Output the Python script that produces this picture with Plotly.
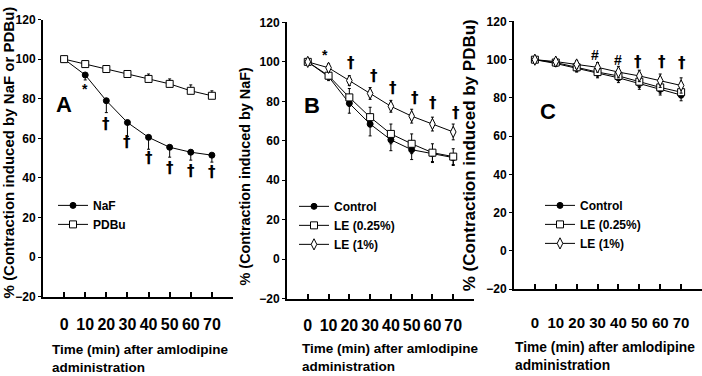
import plotly.graph_objects as go

# ---------------- data ----------------
time_min = [0, 10, 20, 30, 40, 50, 60, 70]
x_tickvals = [0, 10, 20, 30, 40, 50, 60, 70, 80]
x_ticktext = ["0", "10", "20", "30", "40", "50", "60", "70", ""]
y_tickvals = [-20, 0, 20, 40, 60, 80, 100, 120]

# Panel A
a_naf = [100, 92, 79, 68, 60.5, 55.5, 53, 51.5]
a_naf_err_lo = [0, 2.5, 6, 7, 6, 5, 4, 3.5]
a_pdbu = [100, 97.5, 95, 92.5, 90, 87.5, 84, 81.5]
a_pdbu_err_hi = [0, 1, 1.5, 1.5, 2.5, 2.5, 3, 2.5]

# Panel B (NaF)
b_control = [100, 92.5, 79, 68.5, 60.5, 55.5, 53.5, 51.5]
b_control_err = [0, 2, 5, 6, 5.5, 5, 4.5, 4]
b_le025 = [100, 93, 82, 72, 63.5, 58.5, 54, 52]
b_le025_err = [0, 2, 4.5, 5, 5, 5, 4.5, 4]
b_le1 = [100, 97, 90.5, 84, 77.5, 72.5, 68.5, 64.5]
b_le1_err = [1, 2, 2.5, 3, 3, 3.5, 3.5, 4]

# Panel C (PDBu)
c_control = [100, 98, 95.5, 93, 90.5, 87.5, 84.5, 81.5]
c_control_err = [1, 1.5, 2, 2.5, 2.5, 3, 3, 3]
c_le025 = [100, 98.5, 96, 93.5, 91.5, 88.5, 85.5, 83]
c_le025_err = [1, 1.5, 2, 2.5, 2.5, 3, 3, 3]
c_le1 = [100, 99, 97.5, 96, 93.5, 91.5, 89, 86.5]
c_le1_err = [1, 1.5, 2, 2.5, 3, 3, 3.5, 4]

# significance marks
a_marks_x = [10, 20, 30, 40, 50, 60, 70]
a_marks_y = [85, 67, 58, 50, 45, 43.5, 43]
a_marks_t = ["*", "†", "†", "†", "†", "†", "†"]
b_marks_x = [8.5, 21, 32, 41, 51.5, 60.5, 71.5]
b_marks_y = [103.5, 99.5, 93, 87, 81.5, 79, 74]
b_marks_t = ["*", "†", "†", "†", "†", "†", "†"]
c_marks_x = [29, 40, 49.5, 61, 70.5]
c_marks_y = [102.5, 100, 99, 98.8, 98.4]
c_marks_t = ["#", "#", "†", "†", "†"]

FONT = "Liberation Sans, Arial, sans-serif"
MARKFONT = "DejaVu Sans, Liberation Sans, sans-serif"
BLACK = "black"

fig = go.Figure()


def add_series(x, y, xa, ya, legend, name, symbol, fill, up, down, size=7):
    fig.add_trace(go.Scatter(
        x=x, y=y, xaxis=xa, yaxis=ya, legend=legend, name=name,
        mode="lines+markers",
        line=dict(color=BLACK, width=1),
        marker=dict(symbol=symbol, size=size, color=fill,
                    line=dict(color=BLACK, width=1)),
        error_y=dict(type="data", symmetric=False, array=up, arrayminus=down,
                     color=BLACK, thickness=1, width=1.5),
        showlegend=True,
    ))


zeros = [0] * len(time_min)
# Panel A
add_series(time_min, a_naf, "x", "y", "legend", "NaF", "circle", BLACK, zeros, a_naf_err_lo, 6)
add_series(time_min, a_pdbu, "x", "y", "legend", "PDBu", "square", "white", a_pdbu_err_hi, zeros, 7)
# Panel B
add_series(time_min, b_control, "x2", "y2", "legend2", "Control", "circle", BLACK, zeros, b_control_err, 6)
add_series(time_min, b_le025, "x2", "y2", "legend2", "LE (0.25%)", "square", "white", b_le025_err, b_le025_err, 7)
add_series(time_min, b_le1, "x2", "y2", "legend2", "LE (1%)", "diamond-tall", "white", b_le1_err, b_le1_err, 8)
# Panel C
add_series(time_min, c_control, "x3", "y3", "legend3", "Control", "circle", BLACK, c_control_err, c_control_err, 6)
add_series(time_min, c_le025, "x3", "y3", "legend3", "LE (0.25%)", "square", "white", c_le025_err, c_le025_err, 7)
add_series(time_min, c_le1, "x3", "y3", "legend3", "LE (1%)", "diamond-tall", "white", c_le1_err, c_le1_err, 8)

W, H = 702, 376


def px_x(p):
    return p / W


def px_y(p):
    return (H - p) / H


def xaxis(domain, anchor, tsize, standoff):
    return dict(domain=domain, anchor=anchor, range=[-10, 80],
                tickvals=x_tickvals, ticktext=x_ticktext,
                ticks="inside", ticklen=5, tickwidth=1.5, tickcolor=BLACK,
                showline=True, linecolor=BLACK, linewidth=2,
                showgrid=False, zeroline=False,
                ticklabelstandoff=standoff,
                tickfont=dict(family=FONT, size=tsize, color=BLACK, weight="bold"))


def yaxis(domain, anchor, tsize):
    return dict(domain=domain, anchor=anchor, range=[-20, 120],
                tickvals=y_tickvals,
                ticks="outside", ticklen=3, tickwidth=1, tickcolor=BLACK,
                showline=True, linecolor=BLACK, linewidth=2,
                showgrid=False, zeroline=False,
                tickfont=dict(family=FONT, size=tsize, color=BLACK, weight="bold"))


leg_common = dict(xanchor="left", yanchor="top", bgcolor="rgba(0,0,0,0)",
                  font=dict(family=FONT, size=12, color=BLACK, weight="bold"),
                  itemwidth=30, tracegroupgap=0)

fig.update_layout(
    width=W, height=H,
    margin=dict(l=0, r=0, t=0, b=0),
    paper_bgcolor="white", plot_bgcolor="white",
    font=dict(family=FONT, color=BLACK),
    xaxis=xaxis([px_x(43), px_x(233)], "y", 16, 12),
    yaxis=yaxis([px_y(301), px_y(13)], "x", 12),
    xaxis2=xaxis([px_x(287), px_x(474)], "y2", 16, 11),
    yaxis2=yaxis([px_y(303), px_y(16)], "x2", 12),
    xaxis3=xaxis([px_x(514), 1.0], "y3", 15, 19),
    yaxis3=yaxis([px_y(293), px_y(15)], "x3", 12),
    legend=dict(x=px_x(53), y=px_y(191), **leg_common),
    legend2=dict(x=px_x(294), y=px_y(192), **leg_common),
    legend3=dict(x=px_x(540), y=px_y(191), **leg_common),
)

ann = []
for xr, yr, xv, yv, t in [("x", "y", 0, 77, "A"), ("x2", "y2", 1.8, 78, "B"), ("x3", "y3", 6.4, 73, "C")]:
    ann.append(dict(xref=xr, yref=yr, x=xv, y=yv, text=t, showarrow=False,
                    font=dict(family=FONT, size=22, color=BLACK, weight="bold")))
for xr, yr, xs, ys, ts in [("x", "y", a_marks_x, a_marks_y, a_marks_t),
                           ("x2", "y2", b_marks_x, b_marks_y, b_marks_t),
                           ("x3", "y3", c_marks_x, c_marks_y, c_marks_t)]:
    for xv, yv, t in zip(xs, ys, ts):
        ann.append(dict(xref=xr, yref=yr, x=xv, y=yv, text=t, showarrow=False,
                        font=dict(family=MARKFONT if t == "†" else FONT,
                                  size=15 if t == "†" else 14,
                                  color=BLACK, weight="bold")))
for xp, yp, t, s in [(8, 151, "% (Contraction induced by NaF or PDBu)", 15),
                     (245, 176, "% (Contraction induced by NaF)", 14.4),
                     (469, 154, "% (Contraction induced by PDBu)", 17)]:
    ann.append(dict(xref="paper", yref="paper", x=px_x(xp), y=px_y(yp), text=t,
                    textangle=-90, showarrow=False, xanchor="center", yanchor="middle",
                    font=dict(family=FONT, size=s, color=BLACK, weight="bold")))
for xp, yp, s in [(50, 346, 13.5), (300, 345, 13.5), (513, 344, 13.8)]:
    ann.append(dict(xref="paper", yref="paper", x=px_x(xp), y=px_y(yp),
                    text="Time (min) after amlodipine<br>administration",
                    showarrow=False, xanchor="left", yanchor="top", align="left",
                    font=dict(family=FONT, size=s, color=BLACK, weight="bold")))
fig.update_layout(annotations=ann)

fig.write_html("out.html", config={"displayModeBar": False},
               post_script="document.body.style.margin='0px';document.body.style.padding='0px';")
